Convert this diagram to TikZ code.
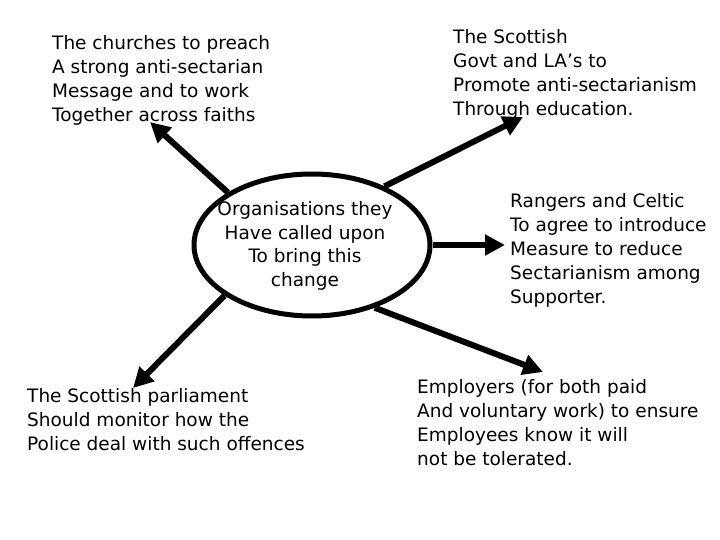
\documentclass[tikz,border=0pt]{standalone}
\usepackage{fontspec}
\setmainfont{DejaVu Sans}
\usetikzlibrary{shapes.geometric,arrows.meta}
\begin{document}
\begin{tikzpicture}[x=1pt,y=-1pt,
  txt/.style={anchor=north west,align=left,inner sep=0pt,font=\fontsize{18.5}{24}\selectfont},
  arr/.style={line width=6pt,-{Triangle[length=20pt,width=20pt]}},
  hub/.style={ellipse,draw,line width=5pt,minimum width=236pt,minimum height=142pt,inner sep=0pt}]
\useasboundingbox (0,0) rectangle (720,540);
\node[hub] (c) at (312,245) {};
\node[align=center,inner sep=0pt,font=\fontsize{18.5}{23.7}\selectfont] (ct) at (305,246) {Organisations they\\Have called upon\\To bring this\\change};
\node[txt] (n1) at (52,35.5) {The churches to preach\\A strong anti-sectarian\\Message and to work\\Together across faiths};
\node[txt] (n2) at (453,29.5) {The Scottish\\Govt and LA’s to\\Promote anti-sectarianism\\Through education.};
\node[txt] (n3) at (510,193.5) {Rangers and Celtic\\To agree to introduce\\Measure to reduce\\Sectarianism among\\Supporter.};
\node[txt] (n4) at (27,388.5) {The Scottish parliament\\Should monitor how the\\Police deal with such offences};
\node[txt] (n5) at (417,379.5) {Employers (for both paid\\And voluntary work) to ensure\\Employees know it will\\not be tolerated.};
\coordinate (t1) at (150,122);
\coordinate (t2) at (523,117);
\coordinate (t3) at (505,245);
\coordinate (t4) at (133,388);
\coordinate (t5) at (543,372);
\draw[arr] (c.148) -- (t1);
\draw[arr] (c.39) -- (t2);
\draw[arr] (c.0) -- (t3);
\draw[arr] (c.-150) -- (t4);
\draw[arr] (c.-45) -- (t5);
\end{tikzpicture}
\end{document}
